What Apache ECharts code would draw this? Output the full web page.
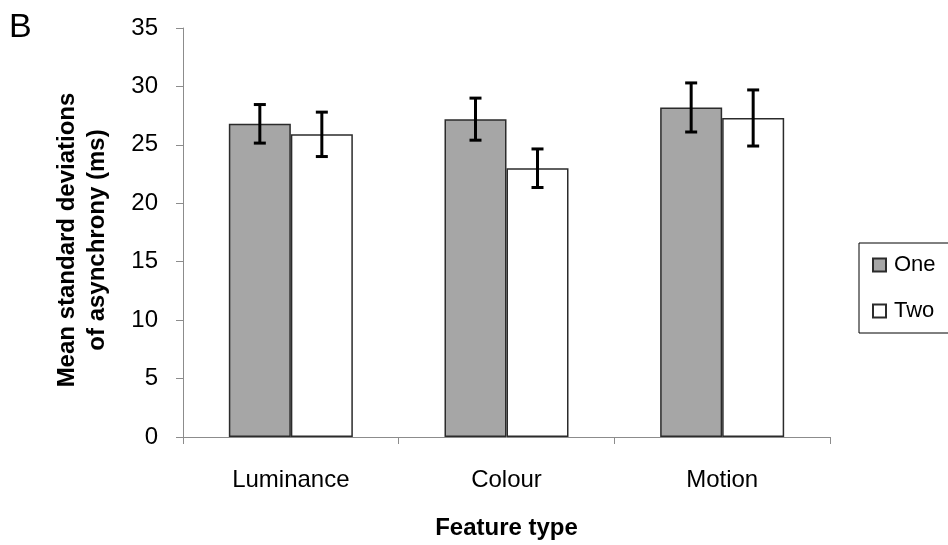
<!DOCTYPE html>
<html>
<head>
<meta charset="utf-8">
<script src="https://cdn.jsdelivr.net/npm/echarts@6/dist/echarts.min.js"></script>
<style>
  html, body { margin: 0; padding: 0; background: #ffffff; }
  #chart { width: 948px; height: 545px; }
</style>
</head>
<body>
<div id="chart"></div>
<script>
// Feature types on the x axis
const categories = ['Luminance', 'Colour', 'Motion'];
// Mean SD of asynchrony (ms) per condition
const oneMeans = [26.8, 27.2, 28.2];
const twoMeans = [25.9, 23.0, 27.3];
// Error bar half-lengths (ms)
const oneErr = [1.65, 1.8, 2.1];
const twoErr = [1.9, 1.65, 2.4];
// Y axis ticks
const yTicks = [0, 5, 10, 15, 20, 25, 30, 35];
const seriesNames = ['One', 'Two'];

const FONT = '"Liberation Sans", Arial, sans-serif';
const CAT_GAP = 0.425; // fraction of a category left empty

const chart = echarts.init(document.getElementById('chart'));

// Builds a custom series that draws error bars centred on each bar of a group
function errorSeries(means, errs, barIndex) {
  return {
    type: 'custom',
    name: seriesNames[barIndex] + ' error',
    z: 10,
    silent: true,
    data: categories.map((c, i) => [i, means[i] - errs[i], means[i] + errs[i]]),
    renderItem: function (params, api) {
      const i = api.value(0);
      const lo = api.coord([i, api.value(1)]);
      const hi = api.coord([i, api.value(2)]);
      const band = api.size([1, 0])[0];
      const barW = band * (1 - CAT_GAP) / 2;
      const x = lo[0] + (barIndex === 0 ? -barW / 2 : barW / 2);
      const cap = 6;
      const style = { stroke: '#000', lineWidth: 3, fill: null };
      return {
        type: 'group',
        children: [
          { type: 'line', shape: { x1: x, y1: hi[1], x2: x, y2: lo[1] }, style },
          { type: 'line', shape: { x1: x - cap, y1: hi[1], x2: x + cap, y2: hi[1] }, style },
          { type: 'line', shape: { x1: x - cap, y1: lo[1], x2: x + cap, y2: lo[1] }, style }
        ]
      };
    }
  };
}

chart.setOption({
  animation: false,
  backgroundColor: '#ffffff',
  textStyle: { fontFamily: FONT },
  grid: { left: 183, right: 118, top: 28, bottom: 108 },
  graphic: [
    {
      type: 'text', left: 9, top: 11,
      style: { text: 'B', font: '34px ' + FONT, fill: '#000' }
    },
    {
      type: 'text', x: 82, y: 240, rotation: Math.PI / 2,
      style: {
        text: 'Mean standard deviations\nof asynchrony (ms)',
        font: 'bold 24px ' + FONT, fill: '#000',
        align: 'center', verticalAlign: 'middle', lineHeight: 30
      }
    }
  ],
  legend: {
    orient: 'vertical',
    left: 859, top: 243,
    data: seriesNames,
    itemWidth: 13, itemHeight: 13, itemGap: 24,
    padding: [11, 30, 11, 13],
    borderColor: '#000', borderWidth: 1,
    icon: 'rect',
    textStyle: { fontSize: 22, color: '#000', fontFamily: FONT, padding: [0, 0, 0, 3] }
  },
  xAxis: {
    type: 'category',
    data: categories,
    name: 'Feature type',
    nameLocation: 'middle',
    nameGap: 79,
    nameTextStyle: { fontSize: 24, fontWeight: 'bold', color: '#000' },
    axisLine: { lineStyle: { color: '#8c8c8c', width: 1 } },
    axisTick: { show: true, length: 7, lineStyle: { color: '#8c8c8c' } },
    axisLabel: { fontSize: 24, color: '#000', margin: 31 }
  },
  yAxis: {
    type: 'value',
    min: yTicks[0], max: yTicks[yTicks.length - 1], interval: 5,
    axisLine: { show: true, lineStyle: { color: '#8c8c8c', width: 1 } },
    axisTick: { show: true, length: 7, lineStyle: { color: '#8c8c8c' } },
    axisLabel: { fontSize: 24, color: '#000', margin: 25 },
    splitLine: { show: false }
  },
  series: [
    {
      name: 'One', type: 'bar', data: oneMeans,
      barGap: '0%', barCategoryGap: (CAT_GAP * 100) + '%',
      itemStyle: { color: '#a6a6a6', borderColor: '#2b2b2b', borderWidth: 1.5 }
    },
    {
      name: 'Two', type: 'bar', data: twoMeans,
      barGap: '0%', barCategoryGap: (CAT_GAP * 100) + '%',
      itemStyle: { color: '#ffffff', borderColor: '#2b2b2b', borderWidth: 1.5 }
    },
    errorSeries(oneMeans, oneErr, 0),
    errorSeries(twoMeans, twoErr, 1)
  ]
});
</script>
</body>
</html>
